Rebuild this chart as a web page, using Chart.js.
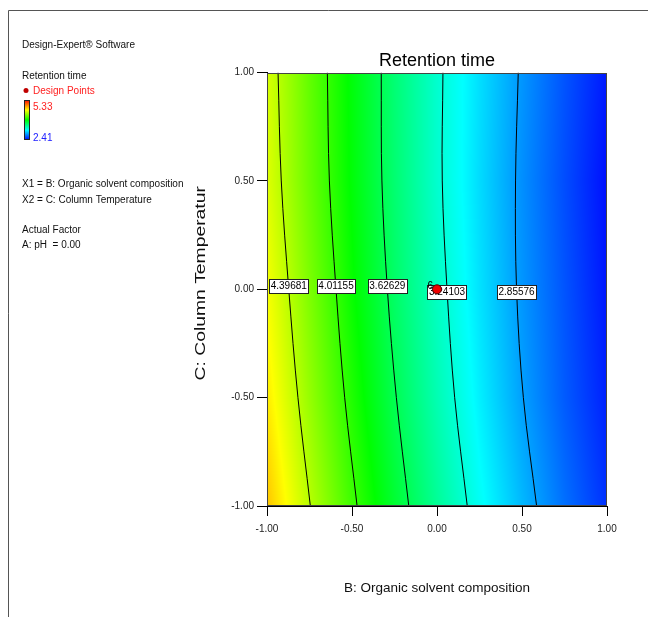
<!DOCTYPE html>
<html>
<head>
<meta charset="utf-8">
<script src="https://cdn.jsdelivr.net/npm/chart.js@4.4.1/dist/chart.umd.min.js"></script>
<style>
body{margin:0;background:#fff}
#wrap{width:648px;height:617px}
</style>
</head>
<body>
<div id="wrap"><canvas id="contourChart" width="648" height="617"></canvas></div>
<script>
// values

// contour levels and where each line crosses the rows below
const levels = [4.39681, 4.01155, 3.62629, 3.24103, 2.85576]
const lineY = [1, 0.5, 0, -0.5, -1]
const line1X = [-0.935, -0.916, -0.872, -0.818, -0.745]
const line2X = [-0.645, -0.633, -0.594, -0.543, -0.470]
const line3X = [-0.328, -0.324, -0.292, -0.239, -0.166]
const line4X = [0.035, 0.031, 0.059, 0.104, 0.178]
const line5X = [0.478, 0.462, 0.468, 0.508, 0.586]
const labelY = [0.016, 0.016, 0.016, -0.012, -0.012]

// retention time read on a coarse grid (columns = B, rows = C)
const gridX = [-1, -0.75, -0.5, -0.25, 0, 0.25, 0.5, 0.75, 1]
const gridY = [1, 0.5, 0, -0.5, -1]
const rowTop = [4.49, 4.15, 3.84, 3.54, 3.28, 3.05, 2.84, 2.65, 2.48]
const rowHalf = [4.51, 4.17, 3.85, 3.55, 3.28, 3.04, 2.82, 2.63, 2.45]
const rowMid = [4.58, 4.23, 3.89, 3.58, 3.31, 3.06, 2.84, 2.65, 2.47]
const rowLowHalf = [4.66, 4.30, 3.96, 3.64, 3.36, 3.10, 2.87, 2.67, 2.50]
const rowBottom = [4.77, 4.40, 4.05, 3.73, 3.44, 3.17, 2.94, 2.73, 2.55]

// design point
const designX = [0]
const designY = [0]
const designRuns = ["6"]

// axes
const xTicks = [-1, -0.5, 0, 0.5, 1]
const yTicks = [-1, -0.5, 0, 0.5, 1]
const scaleMax = 5.33
const scaleMin = 2.41

const lineX = [line1X, line2X, line3X, line4X, line5X]
const gridValues = [rowTop, rowHalf, rowMid, rowLowHalf, rowBottom]

function hueColour(v){
    let t = (v - scaleMin) / (scaleMax - scaleMin)
    t = Math.max(0, Math.min(1, t))
    const h = 240 * (1 - t) / 60
    const i = Math.floor(h)
    const f = h - i
    let r, g, b
    switch(i){
        case 0: r = 1; g = f; b = 0; break
        case 1: r = 1 - f; g = 1; b = 0; break
        case 2: r = 0; g = 1; b = f; break
        case 3: r = 0; g = 1 - f; b = 1; break
        default: r = 0; g = 0; b = 1
    }
    return [Math.round(r * 255), Math.round(g * 255), Math.round(b * 255)]
}

function sampleField(x, y){
    let i = 0
    while(i < gridX.length - 2 && x > gridX[i + 1]) i++
    let j = 0
    while(j < gridY.length - 2 && y < gridY[j + 1]) j++
    const fx = (x - gridX[i]) / (gridX[i + 1] - gridX[i])
    const fy = (y - gridY[j]) / (gridY[j + 1] - gridY[j])
    const a = gridValues[j][i]
    const b = gridValues[j][i + 1]
    const c = gridValues[j + 1][i]
    const d = gridValues[j + 1][i + 1]
    return a * (1 - fx) * (1 - fy) + b * fx * (1 - fy) + c * (1 - fx) * fy + d * fx * fy
}

const fieldPlugin = {
    id: "field",
    beforeDatasetsDraw(chart){
        const a = chart.chartArea
        const xs = chart.scales.x
        const ys = chart.scales.y
        const w = Math.round(a.right - a.left)
        const h = Math.round(a.bottom - a.top)
        const off = document.createElement("canvas")
        off.width = w
        off.height = h
        const octx = off.getContext("2d")
        const img = octx.createImageData(w, h)
        for(let j = 0; j < h; j++){
            const yv = ys.getValueForPixel(a.top + j + 0.5)
            for(let i = 0; i < w; i++){
                const xv = xs.getValueForPixel(a.left + i + 0.5)
                const c = hueColour(sampleField(xv, yv))
                const k = (j * w + i) * 4
                img.data[k] = c[0]
                img.data[k + 1] = c[1]
                img.data[k + 2] = c[2]
                img.data[k + 3] = 255
            }
        }
        octx.putImageData(img, 0, 0)
        chart.ctx.drawImage(off, a.left, a.top)
    },
    afterDatasetDraw(chart, args){
        // contour labels go over the lines but under the design point
        if(args.index !== 1) return
        const ctx = chart.ctx
        const xs = chart.scales.x
        const ys = chart.scales.y
        ctx.save()
        ctx.font = "10px Arial"
        ctx.textAlign = "center"
        ctx.textBaseline = "middle"
        levels.forEach((lv, k) => {
            const txt = lv.toFixed(5)
            const px = xs.getPixelForValue(lineX[k][2])
            const py = ys.getPixelForValue(labelY[k])
            const w = ctx.measureText(txt).width + 3
            ctx.fillStyle = "#fff"
            ctx.fillRect(Math.round(px - w / 2) + 0.5, Math.round(py - 7) + 0.5, Math.round(w), 14)
            ctx.strokeStyle = "#222"
            ctx.lineWidth = 1
            ctx.strokeRect(Math.round(px - w / 2) + 0.5, Math.round(py - 7) + 0.5, Math.round(w), 14)
            ctx.fillStyle = "#000"
            ctx.fillText(txt, px, py + 0.5)
        })
        ctx.restore()
    },
    afterDatasetsDraw(chart){
        const ctx = chart.ctx
        const a = chart.chartArea
        const xs = chart.scales.x
        const ys = chart.scales.y
        ctx.save()
        ctx.strokeStyle = "#444"
        ctx.lineWidth = 1
        ctx.strokeRect(Math.round(a.left) + 0.5, Math.round(a.top) + 0.5, Math.round(a.right - a.left) - 1, Math.round(a.bottom - a.top) - 1)
        ctx.font = "10px Arial"
        ctx.fillStyle = "#000"
        ctx.textAlign = "right"
        ctx.textBaseline = "middle"
        designX.forEach((x, k) => {
            ctx.fillText(designRuns[k], xs.getPixelForValue(x) - 4, ys.getPixelForValue(designY[k]) - 3)
        })
        ctx.restore()
    },
    afterDraw(chart){
        const ctx = chart.ctx
        const a = chart.chartArea
        ctx.save()
        // outer frame
        ctx.strokeStyle = "#555"
        ctx.lineWidth = 1
        ctx.beginPath()
        ctx.moveTo(8.5, 617)
        ctx.lineTo(8.5, 10.5)
        ctx.lineTo(648, 10.5)
        ctx.stroke()

        // y axis title, drawn by hand: the original is stretched along its length
        ctx.translate(201, (a.top + a.bottom) / 2 - 6)
        ctx.rotate(-Math.PI / 2)
        ctx.scale(1.38, 1)
        ctx.font = "14px Arial"
        ctx.fillStyle = "#111"
        ctx.textAlign = "center"
        ctx.textBaseline = "middle"
        ctx.fillText("C: Column Temperatur", 0, 0)
        ctx.restore()

        // side notes
        ctx.save()
        ctx.font = "10px Arial"
        ctx.textBaseline = "alphabetic"
        ctx.fillStyle = "#111"
        ctx.fillText("Design-Expert\u00AE Software", 22, 48)
        ctx.fillText("Retention time", 22, 79)
        ctx.fillStyle = "#c00000"
        ctx.beginPath()
        ctx.arc(26, 90.5, 2.5, 0, Math.PI * 2)
        ctx.fill()
        ctx.fillStyle = "#ff2020"
        ctx.fillText("Design Points", 33, 94)
        const grad = ctx.createLinearGradient(0, 100, 0, 140)
        for(let s = 0; s <= 4; s++){
            const c = hueColour(scaleMax - (scaleMax - scaleMin) * s / 4)
            grad.addColorStop(s / 4, "rgb(" + c.join(",") + ")")
        }
        ctx.fillStyle = grad
        ctx.fillRect(24, 100, 6, 40)
        ctx.strokeStyle = "#222"
        ctx.strokeRect(24.5, 100.5, 5, 39)
        ctx.fillStyle = "#ff2020"
        ctx.fillText(scaleMax.toFixed(2), 33, 110)
        ctx.fillStyle = "#2020ff"
        ctx.fillText(scaleMin.toFixed(2), 33, 141)
        ctx.fillStyle = "#111"
        ctx.fillText("X1 = B: Organic solvent composition", 22, 187)
        ctx.fillText("X2 = C: Column Temperature", 22, 203)
        ctx.fillText("Actual Factor", 22, 233)
        ctx.fillText("A: pH  = 0.00", 22, 248)
        ctx.restore()
    }
}

function createContourChart(){

    const ctx =
    document
    .getElementById(
        "contourChart"
    )

    const datasets = [
        {
            label: "Design Points",
            data: designX.map((x, k) => ({x: x, y: designY[k]})),
            pointRadius: 4.5,
            pointBackgroundColor: "#f00000",
            pointBorderColor: "#500000",
            pointBorderWidth: 1
        }
    ]

    levels.forEach((lv, k) => {
        datasets.push({
            label: lv.toFixed(5),
            data: lineY.map((y, m) => ({x: lineX[k][m], y: y})),
            showLine: true,
            borderColor: "#000",
            borderWidth: 1,
            pointRadius: 0,
            tension: 0.35,
            fill: false
        })
    })

    new Chart(
        ctx,
        {
            type: "scatter",

            data: {
                datasets: datasets
            },

            options: {
                responsive: false,
                animation: false,
                events: [],
                layout: {
                    padding: {left: 188, right: 41, top: 40, bottom: 16}
                },
                plugins: {
                    legend: {display: false},
                    tooltip: {enabled: false},
                    title: {
                        display: true,
                        text: "Retention time",
                        fullSize: false,
                        color: "#000",
                        font: {family: "Arial", size: 18, weight: "normal"},
                        padding: {top: 10, bottom: 1}
                    }
                },
                scales: {
                    x: {
                        type: "linear",
                        min: -1,
                        max: 1,
                        afterBuildTicks: s => { s.ticks = xTicks.map(v => ({value: v})) },
                        afterFit: s => { s.height = 95 },
                        ticks: {
                            callback: v => Number(v).toFixed(2),
                            color: "#222",
                            font: {family: "Arial", size: 10},
                            padding: 7,
                            maxRotation: 0,
                            autoSkip: false
                        },
                        grid: {drawOnChartArea: false, drawTicks: true, tickLength: 10, color: "#000"},
                        border: {display: true, color: "#000"},
                        title: {
                            display: true,
                            text: "B: Organic solvent composition",
                            color: "#111",
                            font: {family: "Arial", size: 13.5},
                            padding: {top: 0, bottom: 5}
                        }
                    },
                    y: {
                        type: "linear",
                        min: -1,
                        max: 1,
                        afterBuildTicks: s => { s.ticks = yTicks.map(v => ({value: v})) },
                        afterFit: s => { s.width = 79 },
                        ticks: {
                            callback: v => Number(v).toFixed(2),
                            color: "#222",
                            font: {family: "Arial", size: 10},
                            padding: 3,
                            autoSkip: false
                        },
                        grid: {drawOnChartArea: false, drawTicks: true, tickLength: 10, color: "#000"},
                        border: {display: true, color: "#000"}
                    }
                }
            },

            plugins: [fieldPlugin]
        }
    )
}

createContourChart()
</script>
</body>
</html>
